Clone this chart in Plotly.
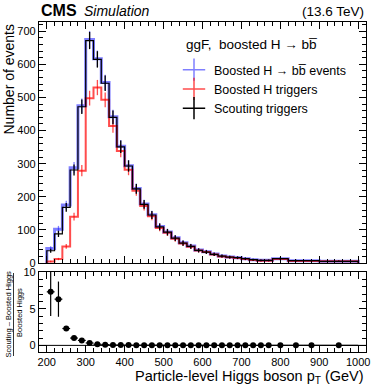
import numpy as np
import plotly.graph_objects as go

# bin edges (GeV)
edges = [200, 220, 240, 260, 280, 300, 320, 340, 360, 380, 400, 420, 440, 460, 480,
         500, 520, 540, 560, 580, 600, 620, 640, 660, 680, 700, 720, 740, 760, 780,
         820, 860, 900, 1000]

# events per bin
boosted_hbb = [44, 102, 175, 288, 475, 675, 617, 545, 442, 353, 294, 225, 178, 146, 110,
               94, 76, 61, 51, 39, 34, 27, 21, 18, 16, 13, 10, 8, 8, 13, 7, 7, 5]
boosted_trig = [4.5, 12, 50, 140, 279, 498, 530, 493, 414, 338, 282, 218, 172, 141, 106,
                91, 73, 59, 49, 38, 33, 26, 20, 17, 15, 12, 9, 7, 7, 12, 6, 6, 5]
scouting_trig = [37, 88, 168, 281, 472, 672, 615, 543, 440, 351, 293, 224, 177, 145, 109,
                 93, 75, 60, 50, 38, 33, 26, 21, 18, 16, 13, 10, 8, 8, 13, 7, 7, 5]

# (Scouting - Boosted Higgs) / Boosted Higgs
ratio = [7.3, 6.3, 2.3, 1.0, 0.68, 0.33, 0.16, 0.1, 0.06, 0.05, 0.04, 0.03, 0.03, 0.03, 0.03,
         0.02, 0.02, 0.02, 0.02, 0.02, 0.02, 0.01, 0.01, 0.01, 0.01, 0.01, 0.01, 0.01, 0.01,
         0.01, 0.01, 0.01, 0.01]
ratio_err = [3.3, 2.4, 0.35, 0.12, 0.07, 0.04, 0.03, 0.02, 0.02, 0.02, 0.02, 0.02, 0.02, 0.02,
             0.02, 0.02, 0.02, 0.02, 0.02, 0.02, 0.02, 0.02, 0.02, 0.02, 0.02, 0.02, 0.02, 0.02,
             0.02, 0.02, 0.02, 0.02, 0.02]

edges = np.array(edges, dtype=float)
centers = 0.5 * (edges[1:] + edges[:-1])
halfw = 0.5 * (edges[1:] - edges[:-1])

FONT = "Liberation Sans, Arial, sans-serif"

fig = go.Figure()


def add_hist(vals, color, width, name):
    vals = np.array(vals, dtype=float)
    xs = np.concatenate([[edges[0]], edges, [edges[-1]]])
    ys = np.concatenate([[0], vals, [vals[-1], 0]])
    fig.add_trace(go.Scatter(x=xs, y=ys, mode="lines", line=dict(color=color, width=width, shape="hv"),
                             showlegend=False, hoverinfo="skip", xaxis="x", yaxis="y"))
    fig.add_trace(go.Scatter(x=centers, y=vals, mode="markers", marker=dict(size=1, opacity=0),
                             error_y=dict(type="data", array=np.sqrt(vals), color=color, thickness=1.3, width=0),
                             showlegend=False, hoverinfo="skip", xaxis="x", yaxis="y"))
    # legend entry
    fig.add_trace(go.Scatter(x=[None], y=[None], mode="markers", name=name,
                             marker=dict(symbol="cross-thin-open", size=16, color=color,
                                         line=dict(color=color, width=1.5)),
                             xaxis="x", yaxis="y"))


add_hist(boosted_hbb, "rgba(0,0,255,0.5)", 3.0, "Boosted H \u2192 bb\u0305 events")
add_hist(boosted_trig, "rgba(255,0,0,0.7)", 2.0, "Boosted H triggers")
add_hist(scouting_trig, "black", 1.2, "Scouting triggers")

# ratio panel
fig.add_trace(go.Scatter(x=[180, 1020], y=[0, 0], mode="lines", line=dict(color="black", width=1),
                         showlegend=False, hoverinfo="skip", xaxis="x2", yaxis="y2"))
fig.add_trace(go.Scatter(x=centers, y=ratio, mode="markers",
                         marker=dict(color="black", size=6),
                         error_y=dict(type="data", array=ratio_err, color="black", thickness=1.2, width=0),
                         error_x=dict(type="data", array=halfw, color="black", thickness=1.2, width=0),
                         showlegend=False, hoverinfo="skip", xaxis="x2", yaxis="y2"))

W, H = 374, 386
ml, mr, mt, mb = 39, 8, 22, 34
pw, ph = W - ml - mr, H - mt - mb


def px_x(p):
    return (p - ml) / pw


def px_y(p):
    return (H - mb - p) / ph


axis_common = dict(showline=True, linecolor="black", linewidth=1.2, mirror="allticks",
                   ticks="inside", ticklen=7, tickwidth=1, tickcolor="black",
                   showgrid=False, zeroline=False, automargin=False,
                   tickfont=dict(family=FONT, size=11, color="black"))

fig.update_layout(
    template="none",
    width=W, height=H,
    margin=dict(l=ml, r=mr, t=mt, b=mb, autoexpand=False),
    plot_bgcolor="white", paper_bgcolor="white",
    font=dict(family=FONT, color="black"),
    xaxis=dict(axis_common, range=[180, 1020], domain=[0, 1], anchor="y", matches="x2",
               showticklabels=False, dtick=100, tick0=0,
               minor=dict(ticks="inside", ticklen=3.5, dtick=20, tickcolor="black")),
    yaxis=dict(axis_common, range=[0, 728], domain=[px_y(263), 1], anchor="x", dtick=100,
               minor=dict(ticks="inside", ticklen=3.5, dtick=20, tickcolor="black")),
    xaxis2=dict(axis_common, range=[180, 1020], domain=[0, 1], anchor="y2", dtick=100, tick0=0,
                minor=dict(ticks="inside", ticklen=3.5, dtick=20, tickcolor="black")),
    yaxis2=dict(axis_common, range=[-0.9, 10], domain=[0, px_y(272)], anchor="x2",
                tickvals=[0, 5, 10],
                minor=dict(ticks="inside", ticklen=3.5, dtick=1, tickcolor="black")),
    legend=dict(x=px_x(174), y=px_y(55), xanchor="left", yanchor="top",
                bgcolor="rgba(0,0,0,0)", font=dict(family=FONT, size=12.5), tracegroupgap=0),
    showlegend=True,
)

fig.add_annotation(x=px_x(184), y=px_y(44), xref="paper", yref="paper", xanchor="left", yanchor="middle",
                   text="ggF,  boosted H \u2192 bb\u0305", showarrow=False, font=dict(family=FONT, size=13.5))
fig.add_annotation(x=0, y=1, xref="paper", yref="paper", xanchor="left", yanchor="bottom", yshift=1,
                   text="<b>CMS</b>", showarrow=False, font=dict(family=FONT, size=16))
fig.add_annotation(x=px_x(82), y=1, xref="paper", yref="paper", xanchor="left", yanchor="bottom", yshift=1,
                   text="<i>Simulation</i>", showarrow=False, font=dict(family=FONT, size=14))
fig.add_annotation(x=1, y=1, xref="paper", yref="paper", xanchor="right", yanchor="bottom", yshift=1,
                   text="(13.6 TeV)", showarrow=False, font=dict(family=FONT, size=13.5))
fig.add_annotation(x=1, y=px_y(376.5), xref="paper", yref="paper", xanchor="right", yanchor="middle",
                   text="Particle-level Higgs boson p<sub>T</sub> (GeV)", showarrow=False,
                   font=dict(family=FONT, size=14.5))
fig.add_annotation(x=px_x(8), y=1, xref="paper", yref="paper", textangle=-90,
                   xanchor="center", yanchor="top",
                   text="Number of events", showarrow=False, font=dict(family=FONT, size=14))
# ratio y title as a fraction
fig.add_annotation(x=px_x(7.5), y=px_y(314), xref="paper", yref="paper", textangle=-90,
                   xanchor="center", yanchor="middle",
                   text="Scouting \u2013 Boosted Higgs", showarrow=False, font=dict(family=FONT, size=7.5))
fig.add_annotation(x=px_x(19), y=px_y(313), xref="paper", yref="paper", textangle=-90,
                   xanchor="center", yanchor="middle",
                   text="Boosted Higgs", showarrow=False, font=dict(family=FONT, size=7.5))
fig.add_shape(type="line", xref="paper", yref="paper", x0=px_x(13.5), x1=px_x(13.5),
              y0=px_y(273), y1=px_y(356), line=dict(color="black", width=0.8))

fig.write_html("out.html", post_script="document.body.style.margin='0';",
               config={"displayModeBar": False})
